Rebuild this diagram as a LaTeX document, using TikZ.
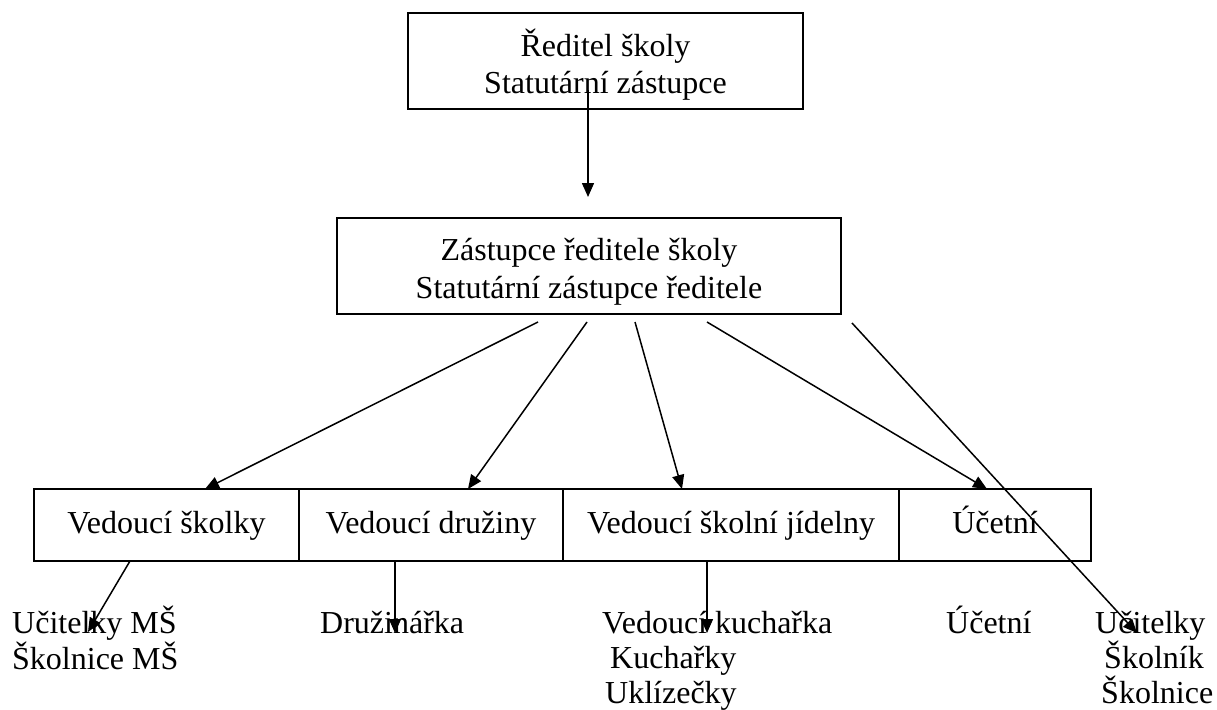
\documentclass[tikz,border=0pt]{standalone}
\usepackage{fontspec}
\setmainfont{Liberation Serif}
\usetikzlibrary{arrows.meta}
\begin{document}
\begin{tikzpicture}[x=1pt,y=-1pt,
  box/.style={draw,line width=1.8pt,inner sep=0pt,align=center,font=\fontsize{32}{37}\selectfont},
  rowbox/.style={box,minimum height=72pt,text height=23pt,text depth=7pt},
  lbl/.style={inner sep=0pt,font=\fontsize{32}{36}\selectfont},
  conn/.style={line width=1.5pt,-{Triangle[length=14pt,width=12pt]}}]
\useasboundingbox (0,0) rectangle (1217,709);
% boxes
\node[box,minimum width=395pt,minimum height=96pt] (dir) at (605.5,61)
  {\rule{0pt}{38pt}Ředitel školy\\Statutární zástupce\rule[-10pt]{0pt}{10pt}};
\node[box,font=\fontsize{32}{38}\selectfont,minimum width=504pt,minimum height=96pt] (zast) at (589,266)
  {\rule{0pt}{37pt}Zástupce ředitele školy\\Statutární zástupce ředitele\rule[-10pt]{0pt}{10pt}};
\node[rowbox,minimum width=265pt] (vsk) at (166.5,525) {Vedoucí školky};
\node[rowbox,minimum width=264pt] (vdr) at (431,525) {Vedoucí družiny};
\node[rowbox,minimum width=336pt] (vsj) at (731,525) {Vedoucí školní jídelny};
\node[rowbox,minimum width=192pt] (uct) at (995,525) {Účetní};
% lower labels
\node[lbl,anchor=base west] (u1) at (12,633) {Učitelky MŠ};
\node[lbl,anchor=base west] (u2) at (12,669) {Školnice MŠ};
\node[lbl,anchor=base west] (dr) at (320,633) {Družinářka};
\node[lbl,anchor=base west] (k1) at (602,633) {Vedoucí kuchařka};
\node[lbl,anchor=base west] (k2) at (610,668) {Kuchařky};
\node[lbl,anchor=base west] (k3) at (605,703) {Uklízečky};
\node[lbl,anchor=base west] (uc) at (946,633) {Účetní};
\node[lbl,anchor=base west] (s1) at (1095,633) {Učitelky};
\node[lbl,anchor=base west] (s2) at (1104,668) {Školník};
\node[lbl,anchor=base west] (s3) at (1101,703) {Školnice};
% connector end points
\coordinate (a0) at (588,90);  \coordinate (a1) at (588,197);
\coordinate (b1) at (538,322); \coordinate (c1) at (205,489);
\coordinate (b2) at (587,322); \coordinate (c2) at (468,489);
\coordinate (b3) at (635,322); \coordinate (c3) at (682,489);
\coordinate (b4) at (707,322); \coordinate (c4) at (987,489);
\coordinate (b5) at (852,323); \coordinate (c5) at (1137,633);
\coordinate (d1) at (130,561); \coordinate (e1) at (88,632);
\coordinate (d2) at (395,561); \coordinate (e2) at (395,633);
\coordinate (d3) at (707,561); \coordinate (e3) at (707,633);
% connectors
\draw[conn] (a0) -- (a1);
\draw[conn] (b1) -- (c1);
\draw[conn] (b2) -- (c2);
\draw[conn] (b3) -- (c3);
\draw[conn] (b4) -- (c4);
\draw[conn] (b5) -- (c5);
\draw[conn] (d1) -- (e1);
\draw[conn] (d2) -- (e2);
\draw[conn] (d3) -- (e3);
\end{tikzpicture}
\end{document}
